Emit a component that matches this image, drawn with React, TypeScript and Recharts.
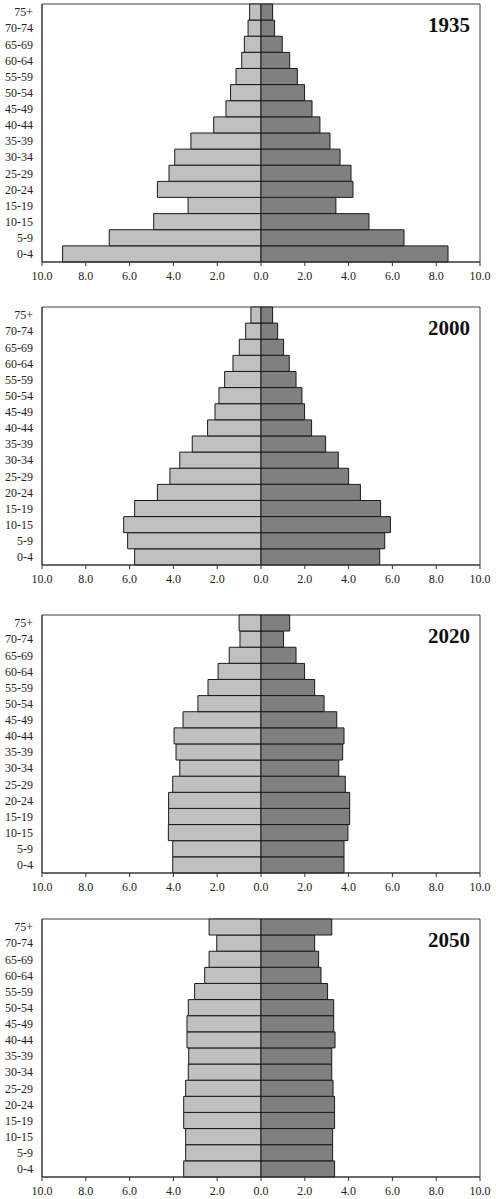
import React from 'react';
import { BarChart, Bar, XAxis, YAxis, ReferenceArea } from 'recharts';

const ages = ['0-4', '5-9', '10-15', '15-19', '20-24', '25-29', '30-34', '35-39', '40-44', '45-49', '50-54', '55-59', '60-64', '65-69', '70-74', '75+'];

const left1935 = [9.06, 6.93, 4.9, 3.33, 4.73, 4.2, 3.94, 3.2, 2.16, 1.6, 1.39, 1.14, 0.88, 0.76, 0.59, 0.52];
const right1935 = [8.54, 6.53, 4.93, 3.42, 4.2, 4.11, 3.61, 3.15, 2.69, 2.33, 1.99, 1.66, 1.31, 0.97, 0.62, 0.53];

const left2000 = [5.77, 6.09, 6.27, 5.77, 4.73, 4.16, 3.71, 3.14, 2.44, 2.1, 1.92, 1.66, 1.28, 0.99, 0.7, 0.46];
const right2000 = [5.42, 5.65, 5.91, 5.46, 4.54, 4.0, 3.53, 2.95, 2.31, 1.99, 1.87, 1.6, 1.29, 1.03, 0.76, 0.53];

const left2020 = [4.03, 4.03, 4.23, 4.22, 4.22, 4.03, 3.71, 3.88, 3.97, 3.56, 2.88, 2.42, 1.96, 1.45, 0.96, 1.0];
const right2020 = [3.79, 3.79, 3.97, 4.05, 4.05, 3.85, 3.55, 3.73, 3.79, 3.46, 2.88, 2.45, 1.99, 1.6, 1.03, 1.31];

const left2050 = [3.53, 3.44, 3.44, 3.53, 3.53, 3.44, 3.32, 3.3, 3.38, 3.38, 3.32, 3.03, 2.57, 2.37, 2.02, 2.37];
const right2050 = [3.36, 3.27, 3.27, 3.36, 3.36, 3.29, 3.23, 3.23, 3.38, 3.32, 3.32, 3.04, 2.74, 2.63, 2.45, 3.23];

const xTicks = [-10, -8, -6, -4, -2, 0, 2, 4, 6, 8, 10];

const panels = [
  { year: '1935', left: left1935, right: right1935, top: 0 },
  { year: '2000', left: left2000, right: right2000, top: 303 },
  { year: '2020', left: left2020, right: right2020, top: 611 },
  { year: '2050', left: left2050, right: right2050, top: 915 },
];

const FONT = '"Liberation Serif", "DejaVu Serif", serif';

const TitleLabel = (props: any) => {
  const vb = props.viewBox || { x: 0, y: 0, width: 0, height: 0 };
  return (
    <text
      x={vb.x + vb.width - 10}
      y={vb.y + 28}
      textAnchor="end"
      fontFamily={FONT}
      fontSize={21}
      fontWeight="bold"
      fill="#111"
    >
      {props.year}
    </text>
  );
};

function Pyramid({ year, left, right }: { year: string; left: number[]; right: number[] }) {
  const data = ages.map((age, i) => ({ age, left: -left[i], right: right[i] }));
  return (
    <BarChart
      width={496}
      height={292}
      data={data}
      layout="vertical"
      stackOffset="sign"
      barCategoryGap={0}
      margin={{ top: 4, right: 16, bottom: 0, left: 0 }}
    >
      <XAxis
        type="number"
        domain={[-10, 10]}
        ticks={xTicks}
        allowDataOverflow
        height={30}
        tickSize={4}
        tickMargin={5}
        stroke="#333"
        axisLine={{ stroke: '#333' }}
        tickLine={{ stroke: '#333' }}
        tick={{ fill: '#222', fontSize: 12, fontFamily: FONT }}
        tickFormatter={(v: number) => Math.abs(v).toFixed(1)}
      />
      <YAxis
        type="category"
        dataKey="age"
        reversed
        width={42}
        tickLine={false}
        tickSize={6}
        tickMargin={3}
        axisLine={{ stroke: '#333' }}
        tick={{ fill: '#222', fontSize: 12, fontFamily: FONT }}
        interval={0}
      />
      <Bar dataKey="left" stackId="a" fill="#c0c0c0" stroke="#1a1a1a" strokeWidth={1} isAnimationActive={false} />
      <Bar dataKey="right" stackId="a" fill="#808080" stroke="#1a1a1a" strokeWidth={1} isAnimationActive={false} />
      <ReferenceArea
        x1={-10}
        x2={10}
        fill="none"
        fillOpacity={0}
        stroke="#404040"
        strokeWidth={1}
        label={<TitleLabel year={year} />}
      />
    </BarChart>
  );
}

export default function App() {
  return (
    <div style={{ position: 'absolute', left: 0, top: 0, width: 496, height: 1199, background: '#fff' }}>
      {panels.map((p) => (
        <div key={p.year} style={{ position: 'absolute', left: 0, top: p.top }}>
          <Pyramid year={p.year} left={p.left} right={p.right} />
        </div>
      ))}
    </div>
  );
}
